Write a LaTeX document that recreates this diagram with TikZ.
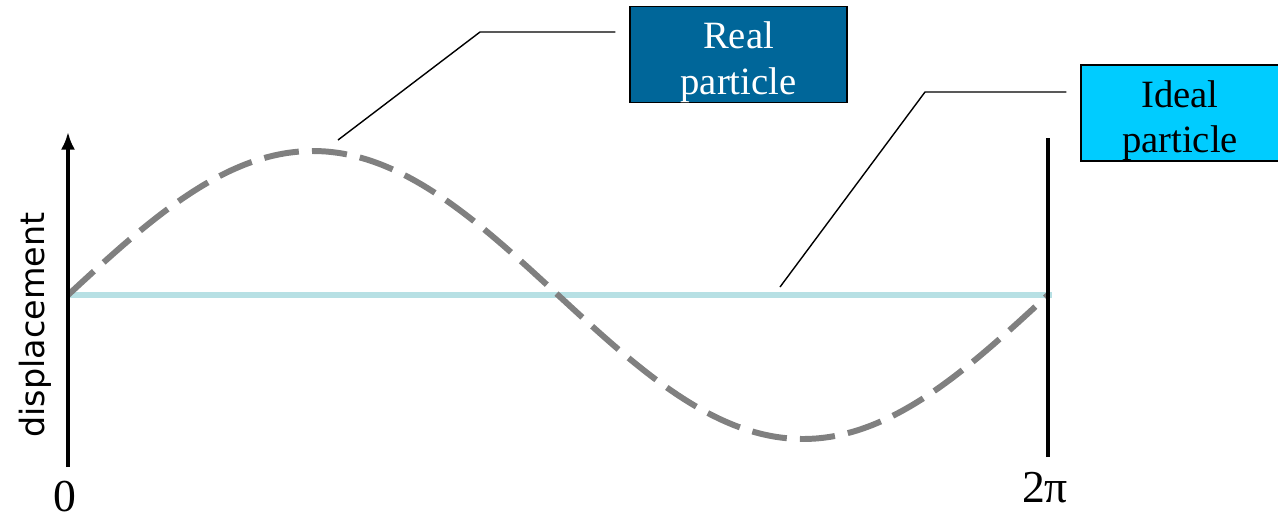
\documentclass[tikz,border=0pt]{standalone}
\usepackage{fontspec}
\setmainfont{Liberation Serif}
\newfontfamily\axisfont{DejaVu Sans}
\usetikzlibrary{arrows.meta,positioning}

\definecolor{realblue}{HTML}{006699}
\definecolor{idealcyan}{HTML}{00CCFF}
\definecolor{paleline}{RGB}{183,224,228}
\definecolor{wavegray}{RGB}{128,128,128}

\newcommand{\boxstrut}{\rule{0pt}{24pt}}

\begin{document}
\begin{tikzpicture}[x=0.02cm,y=-0.02cm,
    labelbox/.style={draw=black, line width=0.8pt, align=center, inner sep=0pt,
        font=\fontsize{22}{26}\selectfont},
    leader/.style={line width=0.8pt, shorten >=0.28cm},
    axisline/.style={line width=2.3pt}]
    \useasboundingbox (0,0) rectangle (1278,522);

    % axes
    \coordinate (origin) at (68,295);
    \coordinate (ybottom) at (68,467);
    \coordinate (ytop) at (68,132);
    \coordinate (endtop) at (1048,138);
    \coordinate (endbottom) at (1048,457);
    \coordinate (endmid) at (1048,295);

    % ideal particle stays put
    \draw[paleline, line width=3.4pt] (origin) -- ([xshift=0.08cm]endmid);

    % real particle oscillates
    \draw[wavegray, line width=3.4pt, dash pattern=on 20pt off 7.5pt]
        plot[domain=0:360, samples=73, smooth] ({68+\x*2.72222},{295-144*sin(\x)});

    \draw[axisline, -{Latex[length=10pt,width=8pt]}] (ybottom) -- (ytop);
    \draw[axisline] (endbottom) -- (endtop);

    \node[rotate=90, font=\axisfont\fontsize{19}{22}\selectfont] (ylabel) at (35,325) {displacement};
    \node[font=\fontsize{26}{29}\selectfont] (zero) at (65,497) {0};
    \node[font=\fontsize{26}{29}\selectfont] (twopi) at (1045,488) {2π};

    % labels
    \node[labelbox, fill=realblue, text=white, minimum width=4.34cm, minimum height=1.86cm]
        (real) at (738.5,54.5) {\boxstrut Real\\particle};
    \node[labelbox, fill=idealcyan, text=black, minimum width=3.96cm, minimum height=1.88cm]
        (ideal) at (1180,113) {\boxstrut Ideal\\particle};

    \coordinate (realtip) at (338,140);
    \coordinate (realbend) at (480,32);
    \coordinate (idealtip) at (780,287);
    \coordinate (idealbend) at (925,92);
    \draw[leader] (realtip) -- (realbend) -- (realbend -| real.west);
    \draw[leader] (idealtip) -- (idealbend) -- (idealbend -| ideal.west);
\end{tikzpicture}
\end{document}
